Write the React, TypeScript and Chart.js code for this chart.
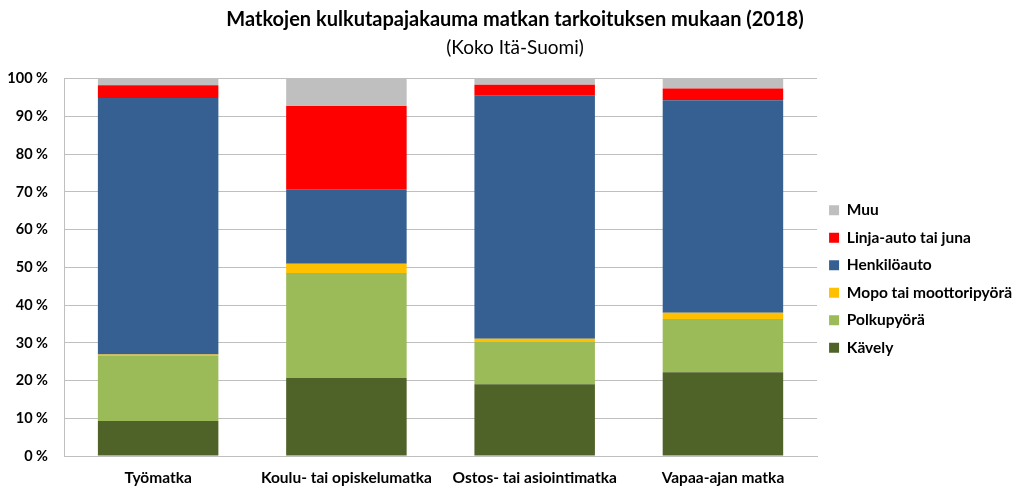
import React, { useEffect, useRef } from "react";
import { Chart, registerables } from "chart.js";

Chart.register(...registerables);

const categories = ["Työmatka", "Koulu- tai opiskelumatka", "Ostos- tai asiointimatka", "Vapaa-ajan matka"];
const kavely = [9.3, 20.7, 19.0, 22.2];
const polkupyora = [17.2, 27.8, 11.2, 14.1];
const mopo = [0.4, 2.5, 0.9, 1.7];
const henkiloauto = [68.0, 19.6, 64.4, 56.3];
const linjaauto = [3.4, 22.2, 2.9, 3.1];
const muu = [1.7, 7.2, 1.6, 2.6];
const yTicks = [0, 10, 20, 30, 40, 50, 60, 70, 80, 90, 100];

const FONT = "Lato, 'Open Sans', sans-serif";

const legendShift = {
  id: "legendShift",
  afterLayout(chart: any) {
    const lg = chart.legend;
    if (lg) {
      const dy = 31;
      lg.top += dy;
      lg.bottom += dy;
      if (lg.legendHitBoxes) lg.legendHitBoxes.forEach((h: any) => (h.top += dy));
    }
  },
};

export default function App() {
  const ref = useRef<HTMLCanvasElement | null>(null);
  useEffect(() => {
    document.body.style.margin = "0";
    const ctx = ref.current!;
    const chart = new Chart(ctx, {
      type: "bar",
      data: {
        labels: categories,
        datasets: [
          { label: "Kävely", data: kavely, backgroundColor: "#4f6228" },
          { label: "Polkupyörä", data: polkupyora, backgroundColor: "#9bbb59" },
          { label: "Mopo tai moottoripyörä", data: mopo, backgroundColor: "#ffc000" },
          { label: "Henkilöauto", data: henkiloauto, backgroundColor: "#366092" },
          { label: "Linja-auto tai juna", data: linjaauto, backgroundColor: "#ff0000" },
          { label: "Muu", data: muu, backgroundColor: "#bfbfbf" },
        ],
      },
      plugins: [legendShift],
      options: {
        responsive: false,
        animation: false,
        maintainAspectRatio: false,
        layout: { padding: { top: 8, right: 2, left: 8, bottom: 7 } },
        datasets: { bar: { categoryPercentage: 0.64, barPercentage: 1.0 } },
        plugins: {
          title: {
            display: true,
            text: "Matkojen kulkutapajakauma matkan tarkoituksen mukaan (2018)",
            color: "#000",
            font: { family: FONT, size: 20, weight: "bold" },
            padding: { top: 0, bottom: 2 },
          },
          subtitle: {
            display: true,
            text: "(Koko Itä-Suomi)",
            color: "#000",
            font: { family: FONT, size: 19, weight: "normal" },
            padding: { top: 2, bottom: 20 },
          },
          legend: {
            position: "right",
            reverse: true,
            labels: {
              boxWidth: 10,
              boxHeight: 10,
              padding: 12,
              color: "#000",
              font: { family: FONT, size: 15.5, weight: "bold" },
            },
          },
          tooltip: { enabled: false },
        },
        scales: {
          x: {
            stacked: true,
            grid: { display: false, drawTicks: false },
            border: { color: "#bfbfbf" },
            afterFit: (scale: any) => {
              scale.height = 32;
            },
            ticks: { color: "#000", font: { family: FONT, size: 15.5, weight: "bold" }, padding: 13 },
          },
          y: {
            stacked: true,
            min: 0,
            max: 100,
            afterBuildTicks: (axis: any) => {
              axis.ticks = yTicks.map((v) => ({ value: v }));
            },
            afterFit: (scale: any) => {
              scale.width = 56;
            },
            grid: { color: "#bfbfbf", drawTicks: false },
            border: { color: "#bfbfbf" },
            ticks: {
              color: "#000",
              font: { family: FONT, size: 14.5, weight: "bold" },
              padding: 16,
              callback: (v: any) => v + " %",
            },
          },
        },
      },
    });
    return () => chart.destroy();
  }, []);
  return (
    <div style={{ position: "fixed", left: 0, top: 0, width: 1024, height: 495, background: "#fff" }}>
      <canvas ref={ref} width={1024} height={495} />
    </div>
  );
}
